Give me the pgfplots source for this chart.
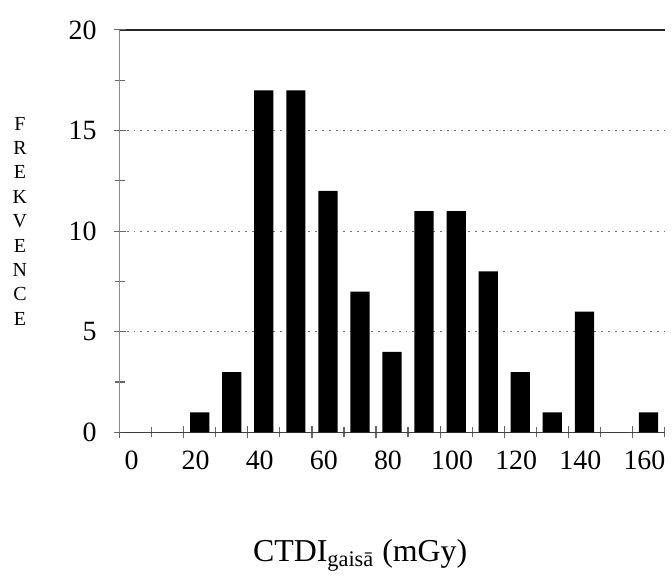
\documentclass[border=0pt]{standalone}
\usepackage{fontspec}
\setmainfont{Liberation Serif}
\usepackage{pgfplots}
\pgfplotsset{compat=1.18}
\begin{document}
\begin{tikzpicture}
\begin{axis}[
    name=ax,
    scale only axis,
    width=273.5pt, height=202pt,
    xmin=0, xmax=170, ymin=0, ymax=20,
    axis x line*=bottom, axis y line*=left,
    x axis line style={black!75, line width=0.8pt, -},
    y axis line style={black!45, line width=0.5pt, -},
    xtick={0,20,...,160},
    minor xtick={10,30,...,170},
    ytick={0,5,10,15},
    minor ytick={2.5,7.5,12.5,17.5},
    extra y ticks={20},
    extra y tick style={grid=major, major grid style={solid, black!85, line width=1.2pt}},
    ymajorgrids,
    major grid style={black!55, dash pattern=on 1pt off 2.5pt},
    tick align=center,
    major tick length=6pt, minor tick length=5pt,
    tick style={black!60, line width=0.6pt},
    ticklabel style={font=\fontsize{14}{14}\selectfont},
    /pgf/number format/assume math mode=true,
    xticklabel style={xshift=6pt, yshift=-3pt},
    yticklabel style={xshift=-5pt},
]
\addplot[ybar, bar width=6, fill=black, draw=none] coordinates {
    (5,0) (15,0) (25,1) (35,3) (45,17) (55,17) (65,12) (75,7) (85,4)
    (95,11) (105,11) (115,8) (125,3) (135,1) (145,6) (155,0) (165,1)
};
\end{axis}
\node[align=center, font=\fontsize{10}{12.25}\selectfont]
    at ([xshift=-50pt, yshift=5pt]ax.west) {F\\R\\E\\K\\V\\E\\N\\C\\E};
\node[font=\fontsize{16}{16}\selectfont]
    at ([xshift=-16pt, yshift=-61.5pt]ax.south) {CTDI\textsubscript{gaisā} (mGy)};
\path ([shift={(-60pt,-73.5pt)}]ax.south west) rectangle ([shift={(2.5pt,15pt)}]ax.north east);
\end{tikzpicture}
\end{document}
